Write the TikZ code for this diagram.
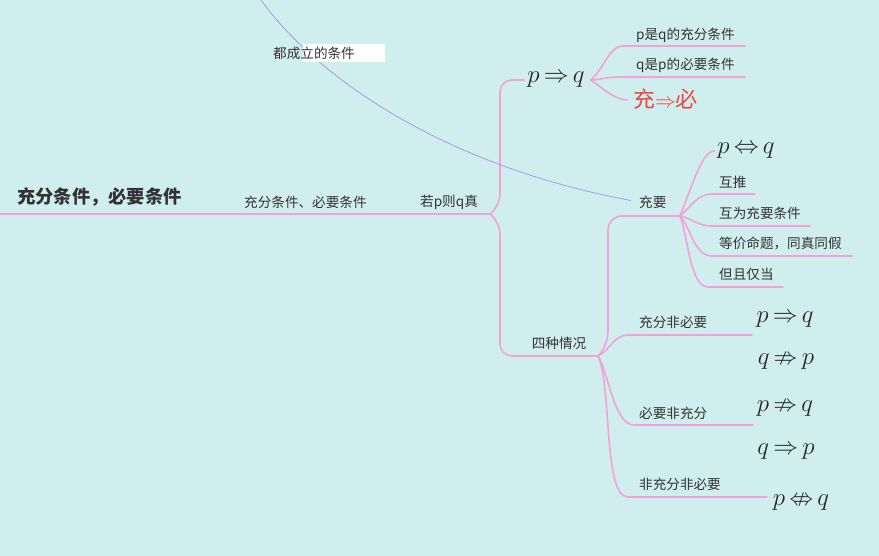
\documentclass[tikz,border=0pt]{standalone}
\usepackage{fontspec}
\setmainfont{Noto Sans CJK SC}
\usepackage{amssymb}
\definecolor{bgteal}{RGB}{208,238,238}
\definecolor{branchpink}{RGB}{242,162,214}
\definecolor{linkpurple}{RGB}{170,152,232}
\definecolor{labelgray}{RGB}{51,51,51}
\definecolor{chongred}{RGB}{235,68,68}
\newcommand{\formulafont}{\fontsize{24}{27}\selectfont\thickmuskip=3mu\relax}

\begin{document}
\begin{tikzpicture}[x=1pt, y=-1pt,
  branch/.style={draw=branchpink, line width=1.6pt, line cap=round},
  link/.style={draw=linkpurple, line width=0.8pt},
  topic/.style={text=labelgray, font=\fontsize{13.6}{16}\selectfont, inner sep=0pt, anchor=west},
  roottopic/.style={text=labelgray, font=\bfseries\fontsize{18.3}{21}\selectfont, inner sep=0pt, anchor=west},
  formula/.style={text=black!85, font=\formulafont, inner sep=0pt}]
\fill[bgteal] (0, 0) rectangle (879, 556);
\useasboundingbox (0, 0) rectangle (879, 556);

% main line
\node[roottopic] (root) at (17, 197) {充分条件，必要条件};
\node[topic] (sufnec) at (244, 202) {充分条件、必要条件};
\node[topic] (ifpq) at (420, 202) {若p则q真};
\coordinate (rootL) at (0, 214);
\coordinate (jMain) at (490, 214);
\draw[branch] (rootL) -- (jMain);

% p => q
\node[formula] (pq) at (556, 80) {$p\Rightarrow q$};
\draw[branch, rounded corners=12pt, shorten >=3pt] (jMain) -- ++(10, -8) |- (pq.west);
\coordinate (jPQ) at ([xshift=6pt]pq.east);
\node[topic] (suff) at (636, 35) {p是q的充分条件};
\node[topic] (necs) at (636, 65) {q是p的必要条件};
\node[text=chongred, font=\fontsize{22}{25}\selectfont, inner sep=0pt, anchor=west] (cb) at (633, 99) {充$\Rightarrow$必};
\coordinate (suffL) at (622, 46); \coordinate (suffR) at (745, 46);
\coordinate (necsL) at (620, 77); \coordinate (necsR) at (745, 77);
\coordinate (cbL) at (627, 100);
\draw[branch] (jPQ) .. controls +(12, -10) and +(-12, 0) .. (suffL) -- (suffR);
\draw[branch] (jPQ) .. controls +(10, 0) and +(-15, 0) .. (necsL) -- (necsR);
\draw[branch] (jPQ) .. controls +(12, 8) and +(-12, 0) .. (cbL);

% relation line
\node[topic] (both) at (639, 202) {充要};
\coordinate (linkTop) at (261, 0);
\draw[link, shorten >=8pt] (linkTop) .. controls (315, 75) and (440, 165) .. (both.west);
\fill[white] (303, 44) rectangle (385, 62);
\node[topic, anchor=center] (allhold) at (314, 53) {都成立的条件};

% four cases
\coordinate (jFour) at (598, 356);
\node[topic, anchor=center] (four) at (559, 343) {四种情况};
\draw[branch, rounded corners=12pt] (jMain) -- ++(10, 8) |- (jFour);
\coordinate (jBoth) at (680, 216);
\draw[branch, rounded corners=14pt] (jFour) -- ++(10, -10) |- (jBoth);

\node[topic] (fs) at (639, 322) {充分非必要};
\node[topic] (ns) at (639, 413) {必要非充分};
\node[topic] (nn) at (639, 484) {非充分非必要};
\coordinate (fsL) at (628, 335); \coordinate (fsR) at (752, 335);
\coordinate (nsL) at (634, 425); \coordinate (nsR) at (753, 425);
\coordinate (nnL) at (628, 497); \coordinate (nnR) at (767, 497);
\draw[branch] (jFour) .. controls +(12, -6) and +(-14, 0) .. (fsL) -- (fsR);
\draw[branch] (jFour) .. controls +(10, 15) and +(-20, 0) .. (nsL) -- (nsR);
\draw[branch] (jFour) .. controls +(14, 30) and +(-25, 0) .. (nnL) -- (nnR);

\node[formula] (fsA) at (785, 320) {$p\Rightarrow q$};
\node[formula] (fsB) at (786, 362) {$q\nRightarrow p$};
\node[formula] (nsA) at (785, 409) {$p\nRightarrow q$};
\node[formula] (nsB) at (786, 452) {$q\Rightarrow p$};
\node[formula] (nnA) at (801, 503) {$p\nLeftrightarrow q$};

% iff branch
\node[formula] (pEq) at (746, 151) {$p\Leftrightarrow q$};
\node[topic] (hutui) at (719, 182) {互推};
\node[topic] (huwei) at (719, 213) {互为充要条件};
\node[topic] (dengjia) at (719, 243) {等价命题，同真同假};
\node[topic] (danqie) at (719, 274) {但且仅当};
\coordinate (htL) at (712, 194); \coordinate (htR) at (755, 194);
\coordinate (hwL) at (712, 226); \coordinate (hwR) at (810, 226);
\coordinate (djL) at (712, 256); \coordinate (djR) at (852, 256);
\coordinate (dqL) at (708, 287); \coordinate (dqR) at (783, 287);
\draw[branch, shorten >=3pt] (jBoth) .. controls +(12, -30) and +(-15, 0) .. (pEq.west);
\draw[branch] (jBoth) .. controls +(12, -10) and +(-15, 0) .. (htL) -- (htR);
\draw[branch] (jBoth) .. controls +(12, 2) and +(-15, 0) .. (hwL) -- (hwR);
\draw[branch] (jBoth) .. controls +(10, 10) and +(-18, 0) .. (djL) -- (djR);
\draw[branch] (jBoth) .. controls +(8, 20) and +(-18, 0) .. (dqL) -- (dqR);
\end{tikzpicture}
\end{document}
